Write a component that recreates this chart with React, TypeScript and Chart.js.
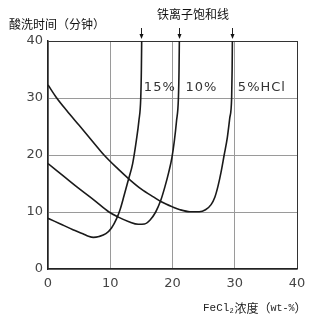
import React, { useEffect, useRef } from 'react';
import { Chart, registerables } from 'chart.js';

Chart.register(...registerables);

// 5% HCl curve
const hcl5X = [0, 1.4, 3, 5, 7, 9, 11.2, 13.2, 15, 17, 18.2, 20, 21.2, 22.8, 24.3, 25.3, 26.2, 26.8, 27.3, 27.8, 28.3, 28.8, 29.2, 29.5, 29.58, 29.62];
const hcl5Y = [32.3, 30, 27.8, 25.2, 22.6, 20, 17.6, 15.6, 14, 12.6, 11.8, 10.9, 10.4, 10.05, 10.05, 10.4, 11.3, 12.6, 14.5, 17, 20, 23, 26.5, 30, 35, 40];
// 10% HCl curve
const hcl10X = [0, 2.5, 5, 7.5, 9.8, 11.3, 13, 14.5, 15.5, 16.4, 17.3, 18.1, 18.8, 19.4, 19.9, 20.3, 20.65, 20.95, 21.05, 21.1];
const hcl10Y = [18.5, 16.3, 14.1, 12.0, 10.0, 9.1, 8.3, 7.85, 7.9, 8.6, 10, 12, 14.5, 17, 19.5, 22.5, 26, 30, 35, 40];
// 15% HCl curve
const hcl15X = [0, 2, 4, 5.6, 6.5, 7.3, 8.2, 9.3, 10.2, 11, 11.6, 12.2, 12.9, 13.6, 14.2, 14.6, 14.9, 15.0, 15.05];
const hcl15Y = [8.9, 7.9, 6.9, 6.2, 5.75, 5.55, 5.7, 6.2, 7.2, 8.8, 10.5, 12.8, 15.6, 18.5, 22.6, 26, 30, 35, 40];

const seriesNames = ['15%', '10%', '5%HCl'];
const saturationX = [15.0, 21.0, 29.6];
const xTicks = [0, 10, 20, 30, 40];
const yTicks = [0, 10, 20, 30, 40];
const yTitle = '酸洗时间（分钟）';
const topTitle = '铁离子饱和线';

const toPts = (xs: number[], ys: number[]) => xs.map((v, i) => ({ x: v, y: ys[i] }));

const labelPos = [
  { x: 15.4, y: 31.8 },
  { x: 22.1, y: 31.8 },
  { x: 30.5, y: 31.8 },
];

const annot = {
  id: 'annot',
  afterDraw(chart: any) {
    const { ctx } = chart;
    const xs = chart.scales.x;
    const ys = chart.scales.y;
    ctx.save();
    ctx.fillStyle = '#111';
    ctx.textBaseline = 'middle';
    ctx.textAlign = 'left';
    ctx.font = '12px "Noto Sans CJK SC"';
    ctx.fillText(yTitle, 9, 24);
    ctx.fillText(topTitle, 157, 14);

    // arrows
    ctx.strokeStyle = '#222';
    ctx.lineWidth = 1;
    saturationX.forEach((v) => {
      const px = Math.round(xs.getPixelForValue(v)) + 0.5;
      ctx.beginPath();
      ctx.moveTo(px, 28);
      ctx.lineTo(px, 35);
      ctx.stroke();
      ctx.beginPath();
      ctx.moveTo(px - 2, 34);
      ctx.lineTo(px + 2, 34);
      ctx.lineTo(px, 39);
      ctx.closePath();
      ctx.fill();
    });

    // series labels
    ctx.font = '13px "DejaVu Sans"';
    ctx.fillStyle = '#333';
    try { (ctx as any).letterSpacing = '1px'; } catch (e) {}
    seriesNames.forEach((n, i) => {
      ctx.fillText(n, xs.getPixelForValue(labelPos[i].x), ys.getPixelForValue(labelPos[i].y));
    });
    try { (ctx as any).letterSpacing = '0px'; } catch (e) {}

    // x title
    let cx = 203;
    const cy = 308;
    ctx.fillStyle = '#222';
    ctx.font = '11px "Liberation Mono"';
    ctx.fillText('FeCl', cx, cy);
    cx += ctx.measureText('FeCl').width;
    ctx.font = '7px "Liberation Mono"';
    ctx.fillText('2', cx, cy + 3);
    cx += ctx.measureText('2').width + 1;
    ctx.font = '12px "Noto Sans CJK SC"';
    ctx.fillText('浓度（', cx, cy);
    cx += ctx.measureText('浓度（').width;
    ctx.font = '10px "Liberation Mono"';
    ctx.fillText('wt-%', cx, cy);
    cx += ctx.measureText('wt-%').width;
    ctx.font = '12px "Noto Sans CJK SC"';
    ctx.fillText('）', cx, cy);
    ctx.restore();
  },
};

export default function App() {
  const ref = useRef<HTMLCanvasElement>(null);
  useEffect(() => {
    if (!ref.current) return;
    const lineStyle = {
      borderColor: '#1a1a1a',
      borderWidth: 1.6,
      pointRadius: 0,
      fill: false,
      cubicInterpolationMode: 'monotone' as const,
    };
    const gridColor = (c: any) => (c.tick && c.tick.value === 40 ? '#333' : '#9a9a9a');
    const chart = new Chart(ref.current, {
      type: 'line',
      data: {
        datasets: [
          { label: seriesNames[0], data: toPts(hcl15X, hcl15Y), ...lineStyle },
          { label: seriesNames[1], data: toPts(hcl10X, hcl10Y), ...lineStyle },
          { label: seriesNames[2], data: toPts(hcl5X, hcl5Y), ...lineStyle },
        ],
      },
      options: {
        animation: false,
        responsive: false,
        devicePixelRatio: 1,
        layout: { padding: { top: 41, right: 25, left: 0, bottom: 0 } },
        plugins: { legend: { display: false }, tooltip: { enabled: false } },
        scales: {
          x: {
            type: 'linear',
            min: 0,
            max: 40,
            afterFit: (s: any) => { s.height = 50; },
            afterBuildTicks: (s: any) => { s.ticks = xTicks.map((v) => ({ value: v })); },
            border: { color: '#222', width: 1.5 },
            grid: { color: gridColor, drawTicks: false, lineWidth: 1 },
            ticks: { padding: 7, color: '#444', font: { family: 'DejaVu Sans', size: 13 } },
          },
          y: {
            type: 'linear',
            min: 0,
            max: 40,
            afterFit: (s: any) => { s.width = 48; },
            afterBuildTicks: (s: any) => { s.ticks = yTicks.map((v) => ({ value: v })); },
            border: { color: '#222', width: 1.5 },
            grid: { color: gridColor, drawTicks: false, lineWidth: 1 },
            ticks: { padding: 5, color: '#444', font: { family: 'DejaVu Sans', size: 13 } },
          },
        },
      },
      plugins: [annot],
    });
    return () => chart.destroy();
  }, []);
  return (
    <div style={{ position: 'absolute', left: 0, top: 0, width: 322, height: 319, background: '#fff' }}>
      <canvas ref={ref} width={322} height={319} />
    </div>
  );
}
